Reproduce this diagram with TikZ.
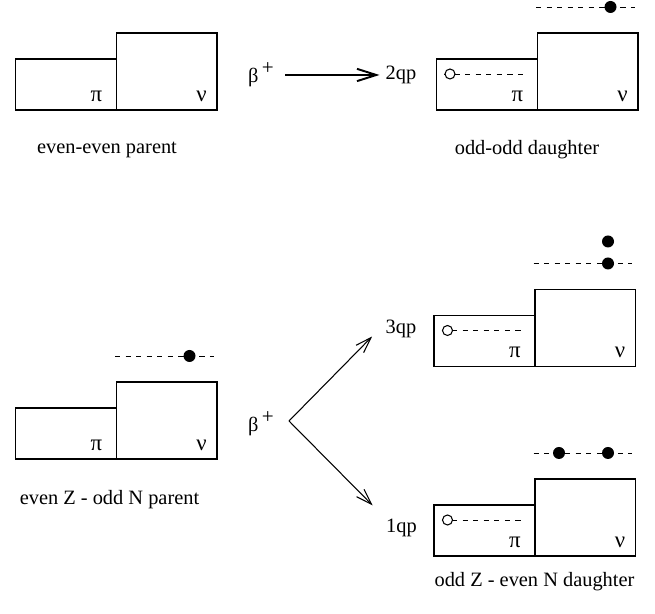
\documentclass[tikz,border=0pt]{standalone}
\usepackage{fontspec}
\setmainfont{Liberation Serif}
\usetikzlibrary{arrows.meta}
\tikzset{
	shell/.style={line width=1.1pt},
	level/.style={line width=0.5pt, dash pattern=on 3pt off 3pt},
	decay/.style={line width=0.6pt, -{Straight Barb[length=9pt,width=6pt]}},
	particle/.style={fill=black},
	nucleus/.pic={
		\draw [shell] (0,0) rectangle (2.02,1.02);
		\draw [shell] (2.02,0) rectangle (4.03,1.54);
		\node [font=\fontsize{13}{15}\selectfont] at (1.62,0.28) {π};
		\node [font=\fontsize{13}{15}\selectfont] at (3.72,0.28) {ν};
	},
	phole/.pic={
		\draw [level] (0.15,0.72) -- (1.83,0.72);
		\draw [line width=0.6pt, fill=white] (0.27,0.72) circle (0.1);
	},
	nlevel/.pic={
		\draw [level] (1.99,2.06) -- (3.96,2.06);
	}
}

\begin{document}
\begin{tikzpicture}[font=\fontsize{11.6}{14}\selectfont]
		\useasboundingbox (0,0) rectangle (13.1,12.28);
		% beta decay of the even-even parent
		\pic at (0.31,10.08) {nucleus};
		\pic at (8.73,10.08) {nucleus};
		\pic at (8.73,10.08) {phole};
		\pic at (8.73,10.08) {nlevel};
		\fill [particle] (12.21,12.14) circle (0.12);
		\node (beta1) at (5.23,10.78) {β\,\textsuperscript{\large +}};
		\node (qp2) at (8.02,10.78) {2qp};
		\draw [decay, line width=1.1pt, shorten <=2.5pt, -{Straight Barb[length=11pt,width=7pt]}] (beta1) -- (qp2);
		\node (ee) at (2.14,9.28) {even-even parent};
		\node (oo) at (10.54,9.28) {odd-odd daughter};
		% beta decay of the even Z - odd N parent
		\pic at (0.31,3.1) {nucleus};
		\pic at (0.31,3.1) {nlevel};
		\fill [particle] (3.79,5.16) circle (0.12);
		\node (beta2) at (5.23,3.8) {β\,\textsuperscript{\large +}};
		\coordinate (split) at (5.78,3.86);
		\node (qp3) at (8.02,5.7) {3qp};
		\node (qp1) at (8.03,1.72) {1qp};
		\draw [decay, shorten >=6pt] (split) -- (qp3.west);
		\draw [decay, shorten >=6pt] (split) -- (qp1.north west);
		\pic at (8.68,4.95) {nucleus};
		\pic at (8.68,4.95) {phole};
		\pic at (8.68,4.95) {nlevel};
		\fill [particle] (12.16,7.01) circle (0.12) (12.16,7.45) circle (0.12);
		\pic at (8.68,1.16) {nucleus};
		\pic at (8.68,1.16) {phole};
		\pic at (8.68,1.16) {nlevel};
		\fill [particle] (11.18,3.22) circle (0.12) (12.16,3.22) circle (0.12);
		\node (eo) at (2.19,2.28) {even Z - odd N parent};
		\node (oe) at (10.69,0.65) {odd Z - even N daughter};
		\end{tikzpicture}
\end{document}
